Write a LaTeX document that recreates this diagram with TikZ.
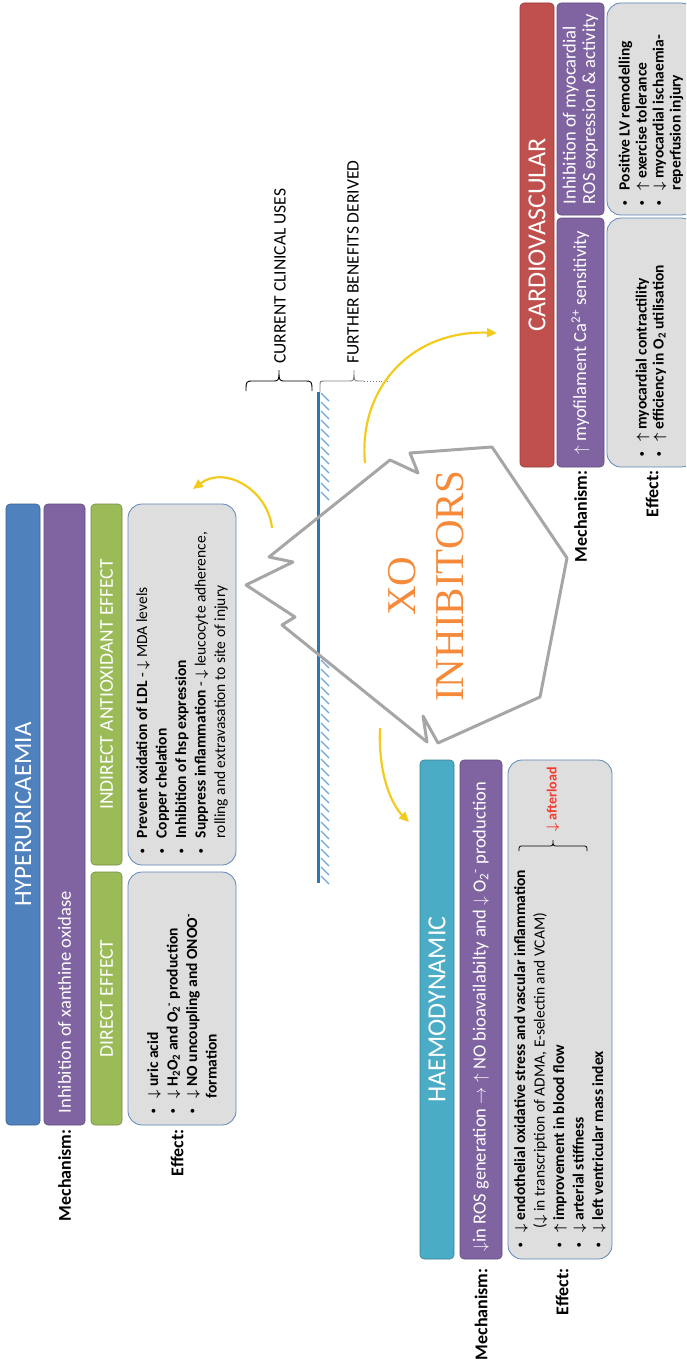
\documentclass[tikz,border=0pt]{standalone}
\usepackage{fontspec}
\setmainfont{Carlito}
\newfontfamily\xofont{Liberation Serif}
\usetikzlibrary{arrows.meta, positioning, calc}

\definecolor{hblue}{HTML}{4F81BD}
\definecolor{mpurple}{HTML}{8064A2}
\definecolor{egreen}{HTML}{9BBB59}
\definecolor{hteal}{HTML}{4BACC6}
\definecolor{cred}{HTML}{C0504D}
\definecolor{effgrey}{HTML}{DEDEDE}
\definecolor{effline}{HTML}{5E86B8}
\definecolor{xogrey}{HTML}{A6A6A6}
\definecolor{xoorange}{HTML}{F58B3A}
\definecolor{lineblue}{HTML}{2E75B6}
\definecolor{hatchblue}{HTML}{6FA5D8}
\definecolor{arrowyellow}{HTML}{F2CB1D}
\definecolor{afterred}{HTML}{F23B2E}

\newcommand{\darr}{\ensuremath{\downarrow}}
\newcommand{\uarr}{\ensuremath{\uparrow}}
\newcommand{\rarr}{\ensuremath{\rightarrow}}
\newcommand{\bul}{\makebox[15pt][l]{\raisebox{2pt}{\fontsize{9}{9}\selectfont\textbullet}}}
\newcommand{\ind}{\hspace*{15pt}}
\newcommand{\fsz}[2]{\fontsize{#1}{#2}\selectfont}

\begin{document}
\begin{tikzpicture}[
  x=1pt, y=-1pt,
  bar/.style={draw=#1!75!black, fill=#1, line width=0.6pt, rounded corners=4pt, rotate=90, inner sep=0pt, text=white},
  effbox/.style={draw=effline, fill=effgrey, line width=0.8pt, rounded corners=14pt, rotate=90},
  mechtext/.style={rotate=90, anchor=west, inner sep=0pt, text=white, font=\fsz{18.5}{22}},
  efftext/.style={rotate=90, anchor=west, inner sep=0pt, align=left, font=\fsz{15.5}{19.5}\bfseries\boldmath},
  lbl/.style={rotate=90, anchor=east, inner sep=0pt, font=\fsz{18}{20}\bfseries},
  uselbl/.style={rotate=90, anchor=west, inner sep=0pt, font=\fsz{17.5}{20}},
  yarrow/.style={draw=arrowyellow, line width=2.2pt, -{Triangle[length=10pt,width=9pt]}},
  hatch/.style={draw=hatchblue, line width=1.1pt},
]
\clip (0,0) rectangle (686,1359);

% Hyperuricaemia column
\node[bar=hblue, minimum width=621pt, minimum height=34pt, font=\fsz{25}{30}] (hyper) at (23,814.5) {HYPERURICAEMIA};
\node[bar=mpurple, minimum width=621pt, minimum height=41pt] (mechL) at (64.5,814.5) {};
\node[bar=egreen, minimum width=253pt, minimum height=31pt, font=\fsz{19.5}{22}] (dirH) at (106.5,998.5) {DIRECT EFFECT};
\node[bar=egreen, minimum width=361pt, minimum height=31pt, font=\fsz{19.5}{22}] (indH) at (106.5,684.5) {INDIRECT ANTIOXIDANT EFFECT};
\node[effbox, minimum width=253pt, minimum height=108pt] (dirE) at (182,998.5) {};
\node[effbox, minimum width=361pt, minimum height=108pt] (indE) at (182,684.5) {};

\node[mechtext] (mechLt) at ($(mechL.west)+(0,-12)$) {Inhibition of xanthine oxidase};
\node[lbl] (mechLl) at ($(mechL.west)+(0,4)$) {Mechanism:};
\node[lbl] (effLl) at ($(dirE.west)+(-5,4)$) {Effect:};

\node[efftext] (dirT) at ($(dirE.west)+(0,-12)$) {\bul\darr\ uric acid\\
  \bul\darr\ H\textsubscript{2}O\textsubscript{2} and O\textsubscript{2}\textsuperscript{-} production\\
  \bul\darr\ NO uncoupling and ONOO\textsuperscript{-}\\
  \ind formation};
\node[efftext] (indT) at ($(indE.west)+(0,-12)$) {\bul Prevent oxidation of LDL \textmd{- \darr\ MDA levels}\\
  \bul Copper chelation\\
  \bul Inhibition of hsp expression\\
  \bul Suppress inflammation \textmd{- \darr\ leucocyte adherence,}\\
  \ind\textmd{rolling and extravasation to site of injury}};

% Haemodynamic column
\node[bar=hteal, minimum width=499pt, minimum height=34pt, font=\fsz{26}{30}] (haemo) at (437,1009.5) {HAEMODYNAMIC};
\node[bar=mpurple, minimum width=499pt, minimum height=42pt] (mechH) at (481,1009.5) {};
\node[effbox, minimum width=499pt, minimum height=104pt] (haemE) at (560,1009.5) {};

\node[mechtext] (mechHt) at ($(mechH.west)+(0,-8)$) {\darr in ROS generation \rarr\ \uarr\ NO bioavailabilty and \darr\ O\textsubscript{2}\textsuperscript{-} production};
\node[lbl] (mechHl) at ($(mechH.west)+(0,9)$) {Mechanism:};
\node[lbl] (effHl) at ($(haemE.west)+(2,9)$) {Effect:};

\node[efftext] (haemT) at ($(haemE.west)+(0,-12)$) {\bul\darr\ endothelial oxidative stress and vascular inflammation\\
  \ind\hspace*{4pt}\textmd{(\darr\ in transcription of ADMA, E-selectin and VCAM)}\\
  \bul\uarr\ improvement in blood flow\\
  \bul\darr\ arterial stiffness\\
  \bul\darr\ left ventricular mass index};

% afterload brace
\draw[line width=0.8pt] (519,851) .. controls (519,846) .. (524,846) -- (548,846) .. controls (553,846) .. (553,840)
  .. controls (553,846) .. (558,846) -- (582,846) .. controls (587,846) .. (587,851);
\node[rotate=90, anchor=west, inner sep=0pt, text=afterred, font=\fsz{14}{16}\bfseries\boldmath] (after) at (553,832) {\darr\ afterload};

% Cardiovascular column
\node[bar=cred, minimum width=464pt, minimum height=34pt, font=\fsz{26}{30}] (cardio) at (537,235) {CARDIOVASCULAR};
\node[bar=mpurple, minimum width=249pt, minimum height=47pt, font=\fsz{18.5}{22}] (mechC1) at (580.5,342.5) {\uarr\ myofilament Ca\textsuperscript{2+} sensitivity};
\node[bar=mpurple, minimum width=212pt, minimum height=47pt, font=\fsz{18.5}{19.5}, align=left] (mechC2) at (580.5,109) {Inhibition of myocardial\\ROS expression \& activity};
\node[effbox, minimum width=249pt, minimum height=88pt] (cardE1) at (651,342.5) {};
\node[effbox, minimum width=212pt, minimum height=88pt] (cardE2) at (651,109) {};

\node[lbl] (mechCl) at ($(mechC1.west)+(0,3)$) {Mechanism:};
\node[lbl] (effCl) at ($(cardE1.west)+(1,3)$) {Effect:};

\node[efftext, font=\fsz{15.5}{17}\bfseries\boldmath] (cardT1) at ($(cardE1.west)+(0,-11)$) {\bul\uarr\ myocardial contractility\\
  \bul\uarr\ efficiency in O\textsubscript{2} utilisation};
\node[efftext, font=\fsz{15.5}{17}\bfseries\boldmath] (cardT2) at ($(cardE2.west)+(0,-10)$) {\bul Positive LV remodelling\\
  \bul\uarr\ exercise tolerance\\
  \bul\darr\ myocardial ischaemia-\\
  \ind reperfusion injury};

% Clinical line with hatching
\coordinate (lineTop) at (318,392);
\coordinate (lineBot) at (318,883);
\foreach \hy in {393,402,...,492} \draw[hatch] (321,\hy) -- (329,\hy+8);
\foreach \hy in {660,669,...,876} \draw[hatch] (321,\hy) -- (329,\hy+8);
\draw[draw=lineblue, line width=3pt] (lineTop) -- (lineBot);

% Braces for uses
\draw[line width=0.9pt] (246,391) .. controls (246,381) .. (254,381) -- (272,381) .. controls (279,381) .. (279,370)
  .. controls (279,381) .. (286,381) -- (304,381) .. controls (312,381) .. (312,391);
\node[uselbl] (cur) at (280,364) {CURRENT CLINICAL USES};
\draw[draw=gray, line width=0.9pt] (320,392) -- (320,386) .. controls (320,381) .. (325,381) -- (349,381)
  .. controls (354,381) .. (354,370) .. controls (354,381) .. (359,381) -- (364,381);
\draw[draw=gray, line width=0.9pt, dotted] (364,381) -- (388,381);
\node[uselbl] (fur) at (353,364) {FURTHER BENEFITS DERIVED};

% XO inhibitors shape
\draw[draw=xogrey, line width=3pt, line join=round] (246,585) -- (295,617) -- (282,625) -- (427,742) -- (423,716)
  -- (438,743) -- (540,697) -- (567,558) -- (492,447) -- (410,453) -- (418,473) -- (390,460)
  -- (269,557) -- (293,562) -- cycle;
\node[rotate=90, text=xoorange, align=center, inner sep=0pt, font=\xofont\fsz{41}{48}] (xo) at (426,586) {XO\\INHIBITORS};

% Arrows
\coordinate (aIndS) at (272,528);
\coordinate (aIndE) at (193,489);
\coordinate (aCarS) at (365,463);
\coordinate (aCarE) at (497,333);
\coordinate (aHaeS) at (380,728);
\coordinate (aHaeE) at (409,822);
\draw[yarrow] (aIndS) .. controls (268,490) and (225,465) .. (aIndE);
\draw[yarrow] (aCarS) .. controls (358,390) and (410,330) .. (aCarE);
\draw[yarrow] (aHaeS) .. controls (378,775) and (392,805) .. (aHaeE);

\end{tikzpicture}
\end{document}
